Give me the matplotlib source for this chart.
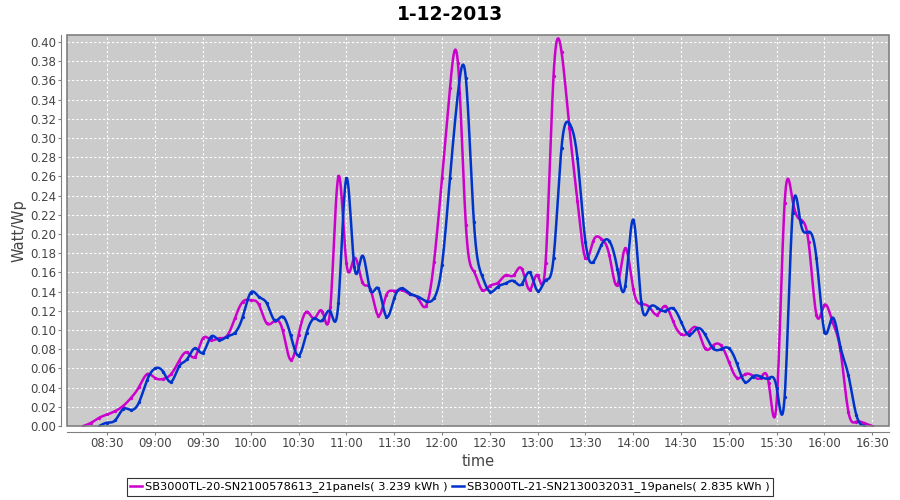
import numpy as np
import matplotlib.pyplot as plt
from matplotlib.patches import Rectangle

# chart text
title = "1-12-2013"
series_names = [
    "SB3000TL-20-SN2100578613_21panels( 3.239 kWh )",
    "SB3000TL-21-SN2130032031_19panels( 2.835 kWh )",
]
series_colors = ["#cc00cc", "#0033cc"]

# 5 minute samples (Watt/Wp)
sample_step = 5
sb20_start = "08:15"
sb20_values = [
    0.0, 0.0035, 0.0087, 0.012, 0.0156, 0.021, 0.0295, 0.041, 0.054, 0.050,
    0.049, 0.054, 0.0677, 0.0767, 0.072, 0.0913, 0.0896, 0.0913, 0.0937, 0.112,
    0.1295, 0.131, 0.1267, 0.107, 0.1097, 0.100, 0.0688, 0.0948, 0.119, 0.112,
    0.119, 0.124, 0.260, 0.170, 0.175, 0.150, 0.143, 0.115, 0.136, 0.1406,
    0.1417, 0.137, 0.133, 0.125, 0.171, 0.258, 0.352, 0.378, 0.209, 0.161,
    0.142, 0.146, 0.149, 0.157, 0.157, 0.164, 0.142, 0.157, 0.170, 0.365,
    0.390, 0.310, 0.234, 0.175, 0.193, 0.195, 0.178, 0.147, 0.185, 0.143,
    0.127, 0.124, 0.116, 0.125, 0.109, 0.0955, 0.098, 0.1017, 0.081, 0.0837,
    0.084, 0.067, 0.0503, 0.0538, 0.0524, 0.0503, 0.045, 0.025, 0.232, 0.235,
    0.2146, 0.192, 0.1156, 0.126, 0.1087, 0.079, 0.015, 0.0045, 0.003, 0.0,
]
sb21_start = "08:25"
sb21_values = [
    0.0, 0.0035, 0.006, 0.0177, 0.0167, 0.025, 0.048, 0.060, 0.0566, 0.046,
    0.062, 0.0694, 0.081, 0.0764, 0.093, 0.0896, 0.093, 0.097, 0.114, 0.139,
    0.1347, 0.128, 0.110, 0.114, 0.0948, 0.0733, 0.0965, 0.112, 0.110, 0.119,
    0.128, 0.258, 0.166, 0.1774, 0.1417, 0.1434, 0.114, 0.133, 0.1434, 0.138,
    0.1347, 0.130, 0.133, 0.1677, 0.258, 0.3465, 0.362, 0.213, 0.157, 0.140,
    0.145, 0.1486, 0.151, 0.1476, 0.160, 0.1406, 0.152, 0.1747, 0.290, 0.315,
    0.279, 0.192, 0.171, 0.1885, 0.1927, 0.164, 0.146, 0.215, 0.1295, 0.1226,
    0.1233, 0.1198, 0.1226, 0.1087, 0.0948, 0.1017, 0.0955, 0.081, 0.080, 0.081,
    0.0653, 0.046, 0.0514, 0.0514, 0.0497, 0.040, 0.030, 0.222, 0.212, 0.2024,
    0.1747, 0.0983, 0.1128, 0.0826, 0.053, 0.0115, 0.0,
]

x_tick_labels = ["08:30", "09:00", "09:30", "10:00", "10:30", "11:00", "11:30",
                 "12:00", "12:30", "13:00", "13:30", "14:00", "14:30", "15:00",
                 "15:30", "16:00", "16:30"]
y_ticks = [0.00, 0.02, 0.04, 0.06, 0.08, 0.10, 0.12, 0.14, 0.16, 0.18, 0.20,
           0.22, 0.24, 0.26, 0.28, 0.30, 0.32, 0.34, 0.36, 0.38, 0.40]


def to_minutes(hhmm):
    h, m = hhmm.split(":")
    return int(h) * 60 + int(m)


def natural_spline(x, y, per_seg=12):
    # natural cubic spline through the samples, like the spline renderer
    x = np.asarray(x, float)
    y = np.asarray(y, float)
    n = len(x)
    h = np.diff(x)
    A = np.zeros((n, n))
    b = np.zeros(n)
    A[0, 0] = 1
    A[-1, -1] = 1
    for i in range(1, n - 1):
        A[i, i - 1] = h[i - 1]
        A[i, i] = 2 * (h[i - 1] + h[i])
        A[i, i + 1] = h[i]
        b[i] = 6 * ((y[i + 1] - y[i]) / h[i] - (y[i] - y[i - 1]) / h[i - 1])
    M = np.linalg.solve(A, b)
    xs, ys = [], []
    for i in range(n - 1):
        t = np.linspace(x[i], x[i + 1], per_seg, endpoint=False)
        a = x[i + 1] - t
        c = t - x[i]
        s = (M[i] * a ** 3 / (6 * h[i]) + M[i + 1] * c ** 3 / (6 * h[i])
             + (y[i] / h[i] - M[i] * h[i] / 6) * a
             + (y[i + 1] / h[i] - M[i + 1] * h[i] / 6) * c)
        xs.append(t)
        ys.append(s)
    xs.append([x[-1]])
    ys.append([y[-1]])
    return np.concatenate(xs), np.concatenate(ys)


fig = plt.figure(figsize=(9, 5), dpi=100)
ax = fig.add_axes([67 / 900, 74 / 500, 822 / 900, 391 / 500])
ax.set_facecolor("#cbcbcb")

series = [(sb20_start, sb20_values), (sb21_start, sb21_values)]
handles = []
for (start, values), name, color in zip(series, series_names, series_colors):
    t0 = to_minutes(start)
    xt = t0 + sample_step * np.arange(len(values))
    sx, sy = natural_spline(xt, values)
    line, = ax.plot(sx, sy, color=color, lw=1.8, label=name, zorder=3)
    ax.plot(xt, values, ls="none", marker="o", ms=1.4, color=color, zorder=3)
    handles.append(line)

ax.set_xlim(484.7, 1000.5)
ax.set_ylim(0, 0.4073)

ax.set_xticks([to_minutes(s) for s in x_tick_labels])
ax.set_xticklabels(x_tick_labels)
ax.set_yticks(y_ticks)
ax.set_yticklabels([f"{v:.2f}" for v in y_ticks])

ax.grid(True, color="white", linestyle=(0, (2, 2)), linewidth=0.8)
ax.set_axisbelow(True)

# axis lines sit a few pixels away from the plot outline
for side in ["top", "right"]:
    ax.spines[side].set_visible(False)
for side in ["left", "bottom"]:
    ax.spines[side].set_position(("outward", 4))
    ax.spines[side].set_color("#808080")
ax.add_patch(Rectangle((0, 0), 1, 1, transform=ax.transAxes, fill=False,
                       edgecolor="#808080", lw=1.2, zorder=4, clip_on=False))

ax.tick_params(axis="both", length=2, width=0.8, color="#808080",
               labelsize=8.5, labelcolor="#444444", pad=2)

ax.set_xlabel("time", fontsize=10.5, color="#444444", labelpad=3)
ax.set_ylabel("Watt/Wp", fontsize=10.5, color="#444444", labelpad=2)

fig.text(0.5, 1 - 14 / 500, title, ha="center", va="center",
         fontsize=13.5, fontweight="bold")

leg = fig.legend(handles=handles, loc="center", bbox_to_anchor=(0.5, 1 - 487 / 500),
                 ncol=2, frameon=True, fancybox=False, edgecolor="black",
                 fontsize=8.2, handlelength=1.0, handletextpad=0.3,
                 columnspacing=0.4, borderpad=0.3, borderaxespad=0)
leg.get_frame().set_linewidth(0.8)

plt.savefig("out.png", dpi=100)
